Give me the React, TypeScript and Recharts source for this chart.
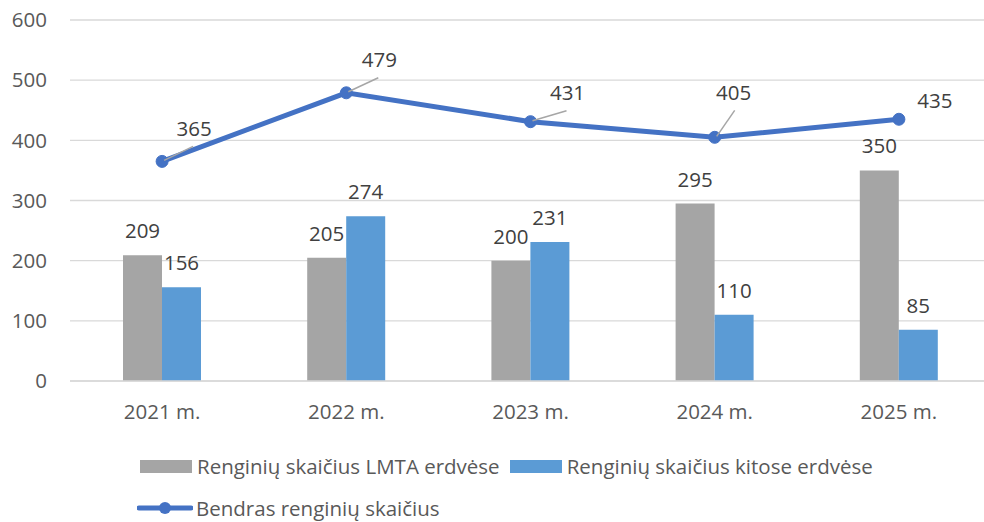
import { Bar, CartesianGrid, ComposedChart, LabelList, Legend, Line, XAxis, YAxis } from 'recharts';

const years = ['2021 m.', '2022 m.', '2023 m.', '2024 m.', '2025 m.'];
const lmtaEvents = [209, 205, 200, 295, 350];
const otherEvents = [156, 274, 231, 110, 85];
const totalEvents = [365, 479, 431, 405, 435];
const yTicks = [0, 100, 200, 300, 400, 500, 600];

const seriesNames = {
  lmta: 'Renginių skaičius LMTA erdvėse',
  other: 'Renginių skaičius kitose erdvėse',
  total: 'Bendras renginių skaičius'
};

const data = years.map((year, i) => ({
  year,
  lmta: lmtaEvents[i],
  other: otherEvents[i],
  total: totalEvents[i]
}));

// label placement for the total line (Excel style callouts)
const totalLabelShift = [
  { dx: 32, dy: -33, leader: true },
  { dx: 33, dy: -33, leader: true },
  { dx: 37, dy: -29, leader: true },
  { dx: 19, dy: -45, leader: true },
  { dx: 36, dy: -18, leader: false }
];

const FONT = '"Open Sans", sans-serif';
const FS = 20.5;
const TEXT = '#404040';
const GRAY = '#A5A5A5';
const BLUE = '#5B9BD5';
const LINE = '#4472C4';

const TotalLabel = (props: any) => {
  const { x, y, value, index } = props;
  const s = totalLabelShift[index];
  const lx = x + s.dx;
  const ly = y + s.dy;
  return (
    <g>
      {s.leader && (
        <line
          x1={x + 2}
          y1={y - 1}
          x2={lx + (s.dx < 25 ? 1 : -1)}
          y2={ly + 18}
          stroke="#A6A6A6"
          strokeWidth={1.5}
        />
      )}
      <text x={lx} y={ly} dy="0.35em" textAnchor="middle" fill={TEXT} fontSize={FS} fontFamily={FONT}>
        {value}
      </text>
    </g>
  );
};

const renderLegend = () => (
  <div style={{ position: 'relative', height: 101, fontFamily: FONT, fontSize: FS, color: '#595959' }}>
    <div style={{ position: 'absolute', left: 140, top: 31, display: 'flex', alignItems: 'center', whiteSpace: 'nowrap' }}>
      <span style={{ width: 52, height: 13, background: GRAY, marginRight: 5 }} />
      <span>{seriesNames.lmta}</span>
      <span style={{ width: 52, height: 13, background: BLUE, marginLeft: 10, marginRight: 5 }} />
      <span>{seriesNames.other}</span>
    </div>
    <div style={{ position: 'absolute', left: 137, top: 73, display: 'flex', alignItems: 'center', whiteSpace: 'nowrap' }}>
      <svg width={56} height={16} style={{ marginRight: 3 }}>
        <line x1={2} y1={8} x2={54} y2={8} stroke={LINE} strokeWidth={5} strokeLinecap="round" />
        <circle cx={28} cy={8} r={6} fill={LINE} />
      </svg>
      <span>{seriesNames.total}</span>
    </div>
  </div>
);

export default function App() {
  return (
    <div style={{ width: 984, height: 522, overflow: 'hidden', position: 'absolute', left: 0, top: 0, background: '#fff' }}>
      <ComposedChart
        width={991}
        height={522}
        data={data}
        margin={{ top: 20, right: 0, bottom: 0, left: 0 }}
        barGap={0}
        barSize={39}
      >
        <CartesianGrid vertical={false} stroke="#D9D9D9" strokeWidth={1.3} />
        <XAxis
          dataKey="year"
          height={40}
          tickLine={false}
          tickSize={0}
          tickMargin={23}
          axisLine={{ stroke: '#D9D9D9', strokeWidth: 1.3 }}
          tick={{ fontSize: FS, fill: '#595959', fontFamily: FONT }}
        />
        <YAxis
          width={70}
          domain={[0, 600]}
          ticks={yTicks}
          axisLine={false}
          tickLine={false}
          tickSize={0}
          tickMargin={23}
          tick={{ fontSize: FS, fill: '#595959', fontFamily: FONT }}
        />
        <Legend verticalAlign="bottom" content={renderLegend} />
        <Bar dataKey="lmta" name={seriesNames.lmta} fill={GRAY} isAnimationActive={false}>
          <LabelList dataKey="lmta" position="top" offset={17} fill={TEXT} fontSize={FS} fontFamily={FONT} />
        </Bar>
        <Bar dataKey="other" name={seriesNames.other} fill={BLUE} isAnimationActive={false}>
          <LabelList dataKey="other" position="top" offset={17} fill={TEXT} fontSize={FS} fontFamily={FONT} />
        </Bar>
        <Line
          dataKey="total"
          name={seriesNames.total}
          stroke={LINE}
          strokeWidth={5}
          dot={{ r: 6, fill: LINE, stroke: LINE, strokeWidth: 1 }}
          isAnimationActive={false}
        >
          <LabelList dataKey="total" content={TotalLabel} />
        </Line>
      </ComposedChart>
    </div>
  );
}
